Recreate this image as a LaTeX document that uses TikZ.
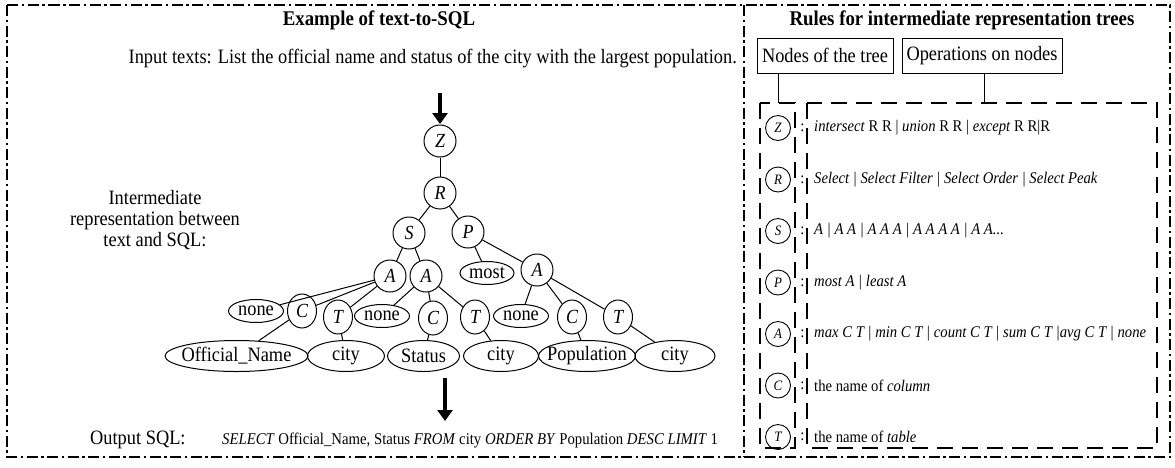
\documentclass[tikz,border=0pt]{standalone}
\usepackage{fontspec}
\setmainfont{Liberation Serif}[FakeStretch=0.9]
\usetikzlibrary{shapes.geometric,arrows.meta}
\newcommand\zw[1]{\makebox[0pt]{#1}}
\begin{document}
\begin{tikzpicture}[x=1pt,y=-1pt,
  every node/.style={inner sep=0pt},
  big/.style={font=\fontsize{20.4}{20.4}\selectfont},
  small/.style={font=\fontsize{16.3}{16.3}\selectfont},
  ttl/.style={font=\fontsize{20.9}{20.9}\selectfont\bfseries},
  frame/.style={line width=1.2pt,dash pattern=on 11pt off 3.5pt on 2.5pt off 3.5pt},
  tn/.style={draw,circle,line width=1pt,minimum size=32pt,font=\fontsize{20}{20}\selectfont\itshape},
  tv/.style={draw,ellipse,line width=1pt,minimum width=29pt,minimum height=34pt,font=\fontsize{20}{20}\selectfont\itshape},
  lf/.style={draw,ellipse,line width=1pt,minimum height=23pt,font=\fontsize{20.4}{20.4}\selectfont},
  wd/.style={draw,ellipse,line width=1pt,minimum height=31pt,minimum width=#1,font=\fontsize{20.4}{20.4}\selectfont},
  edge/.style={line width=1pt},
  bigarrow/.style={line width=3.2pt,-{Triangle[length=11pt,width=15pt]}},
  rn/.style={draw,circle,line width=0.9pt,minimum size=25pt,font=\fontsize{14.4}{14.4}\selectfont\itshape},
  hdr/.style={draw,line width=1pt,minimum height=35pt,big},
  rulebox/.style={line width=1.2pt,dash pattern=on 16pt off 9pt},
  ]
\useasboundingbox (0,0) rectangle (1175,467);

% outer frame and divider
\draw[frame] (7,5) rectangle (1170,457);
\draw[frame] (744,5) -- (744,457);

% ---------------- left panel ----------------
\node[ttl] (t1) at (379,20) {Example of text-to-SQL};
\node[big,anchor=east] (in) at (737,59) {Input texts: List the official name and status of the city with the largest population.};
\node[big,align=center] (ir) at (155,220) {Intermediate\\[1pt]representation between\\[1pt]text and SQL:};

\coordinate (a1s) at (440,93);
\coordinate (a1e) at (440,124);
\draw[bigarrow] (a1s) -- (a1e);

\node[tn] (Z) at (440,141) {Z};
\node[tn] (R) at (440,193) {R};
\node[tn] (S) at (409,233) {S};
\node[tn] (P) at (468,232) {P};
\node[tn] (A1) at (390,276) {A};
\node[tn] (A2) at (426,276) {A};
\node[lf,minimum width=54pt] (most) at (487,273) {\zw{most}};
\node[tn] (A3) at (537,270) {A};

\node[lf,minimum width=55pt] (n1) at (256,311) {\zw{none}};
\node[tv] (C1) at (302,311) {C};
\node[tv] (T1) at (338,317) {T};
\node[lf,minimum width=55pt] (n2) at (382,316) {\zw{none}};
\node[tv] (C2) at (433,318) {C};
\node[tv] (T2) at (475,317) {T};
\node[lf,minimum width=55pt] (n3) at (521,316) {\zw{none}};
\node[tv] (C3) at (572,317) {C};
\node[tv] (T3) at (618,317) {T};

\node[wd=143pt] (w1) at (236.5,356) {\zw{Official\_Name}};
\node[wd=77pt] (w2) at (346,356) {\zw{city}};
\node[wd=72pt] (w3) at (423.5,356) {\zw{Status}};
\node[wd=75pt] (w4) at (501,356) {\zw{city}};
\node[wd=97pt] (w5) at (587,356) {\zw{Population}};
\node[wd=80pt] (w6) at (675,356) {\zw{city}};

\draw[edge] (Z) -- (R);
\draw[edge] (R) -- (S);
\draw[edge] (R) -- (P);
\draw[edge] (S) -- (A1);
\draw[edge] (S) -- (A2);
\draw[edge] (P) -- (most);
\draw[edge] (P) -- (A3);
\draw[edge] (A1) -- (n1);
\draw[edge] (A1) -- (C1);
\draw[edge] (A1) -- (T1);
\draw[edge] (A2) -- (n2);
\draw[edge] (A2) -- (C2);
\draw[edge] (A2) -- (T2);
\draw[edge] (A3) -- (n3);
\draw[edge] (A3) -- (C3);
\draw[edge] (A3) -- (T3);
\draw[edge] (C1) -- (w1);
\draw[edge] (T1) -- (w2);
\draw[edge] (C2) -- (w3);
\draw[edge] (T2) -- (w4);
\draw[edge] (C3) -- (w5);
\draw[edge] (T3) -- (w6);

\coordinate (a2s) at (445,378);
\coordinate (a2e) at (445,421);
\draw[bigarrow] (a2s) -- (a2e);

\node[big,anchor=west] (osql) at (90,440) {Output SQL:};
\node[font=\fontsize{16.4}{16.4}\selectfont,anchor=west] (sql) at (222,440)
  {\textit{SELECT} Official\_Name, Status \textit{FROM} city \textit{ORDER BY} Population \textit{DESC LIMIT} 1};

% ---------------- right panel ----------------
\node[ttl] (t2) at (962,20) {Rules for intermediate representation trees};
\node[hdr,minimum width=136pt] (h1) at (825,55.5) {Nodes of the tree};
\node[hdr,minimum width=160pt] (h2) at (982,55.5) {Operations on nodes};

\draw[rulebox] (760,103) rectangle (795,448);
\draw[rulebox] (807,103) rectangle (1157,448);
\coordinate (lt) at (778,103);
\coordinate (rt) at (984,103);
\draw[edge] (h1.south -| lt) -- (lt);
\draw[edge] (h2.south -| rt) -- (rt);

\foreach \n/\l/\y in {rz/Z/128, rr/R/179.5, rs/S/231, rp/P/282.5, ra/A/334, rc/C/385.5, rtt/T/437}{
  \node[rn] (\n) at (778,\y) {\l};
  \node[small] (\n c) at (802.5,\y) {:};
}
\node[small,anchor=west] (oz) at (814,128) {\textit{intersect} R R | \textit{union} R R | \textit{except} R R|R};
\node[small,anchor=west] (or) at (814,179.5) {\textit{Select | Select Filter | Select Order | Select Peak}};
\node[small,anchor=west] (os) at (814,231) {\textit{A | A A | A A A | A A A A | A A...}};
\node[small,anchor=west] (op) at (814,282.5) {\textit{most A | least A}};
\node[small,anchor=west] (oa) at (814,334) {\textit{max C T | min C T | count C T | sum C T |avg C T | none}};
\node[small,anchor=west] (oc) at (814,385.5) {the name of \textit{column}};
\node[small,anchor=west] (ot) at (814,437) {the name of \textit{table}};
\end{tikzpicture}
\end{document}
